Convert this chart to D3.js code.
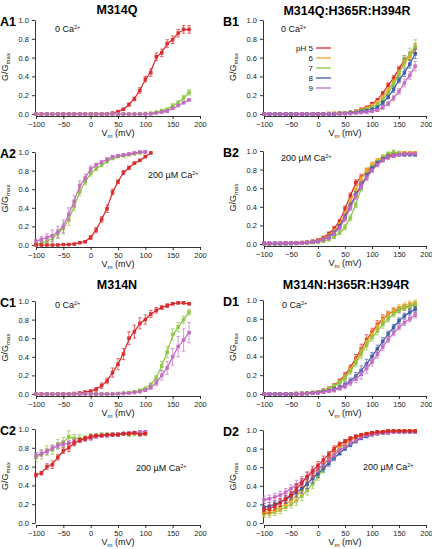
<!DOCTYPE html>
<html><head><meta charset="utf-8">
<script src="https://cdn.jsdelivr.net/npm/d3@7"></script>
<style>body{margin:0;background:#fff}svg{display:block}text{font-family:"Liberation Sans",Arial,sans-serif}</style>
</head><body><svg id="c" width="432" height="549"></svg>
<script>
// ---------- data ----------
const vm29 = [-100,-90,-80,-70,-60,-50,-40,-30,-20,-10,0,10,20,30,40,50,60,70,80,90,100,110,120,130,140,150,160,170,180];
const vm22 = [-100,-90,-80,-70,-60,-50,-40,-30,-20,-10,0,10,20,30,40,50,60,70,80,90,100,110];
const vm21 = [-100,-90,-80,-70,-60,-50,-40,-30,-20,-10,0,10,20,30,40,50,60,70,80,90,100];
const xTicks = [-100,-50,0,50,100,150,200];
const yTicks = [0,0.2,0.4,0.6,0.8,1.0];
const legendLabels = ["pH 5","6","7","8","9"];

// A1 (M314Q, 0 Ca)
const A1_pH5 = [0,0,0,0,0,0,0,0,0,0,0,0,0,0,0.01,0.025,0.05,0.1,0.16,0.25,0.37,0.44,0.61,0.65,0.75,0.79,0.86,0.9,0.9];
const A1_pH5_err = [0,0,0,0,0,0,0,0,0,0,0,0,0,0,0.005,0.01,0.01,0.015,0.02,0.03,0.03,0.04,0.04,0.04,0.04,0.04,0.04,0.04,0.04];
const A1_pH7 = [0,0,0,0,0,0,0,0,0,0,0,0,0,0,0,0,0,0,0,0,0.005,0.01,0.02,0.035,0.05,0.09,0.12,0.17,0.23];
const A1_pH7_err = [0,0,0,0,0,0,0,0,0,0,0,0,0,0,0,0,0,0,0,0,0,0.005,0.005,0.01,0.01,0.02,0.02,0.03,0.03];
const A1_pH9 = [0,0,0,0,0,0,0,0,0,0,0,0,0,0,0,0,0,0,0,0,0,0,0.01,0.02,0.03,0.06,0.09,0.12,0.15];
const A1_pH9_err = [0,0,0,0,0,0,0,0,0,0,0,0,0,0,0,0,0,0,0,0,0,0,0.005,0.005,0.01,0.01,0.01,0.01,0.01];
// A2 (M314Q, 200 uM Ca)
const A2_pH5 = [0,0,0,0,0,0.005,0.005,0.01,0.025,0.035,0.08,0.16,0.275,0.39,0.57,0.68,0.78,0.83,0.88,0.91,0.95,0.99];
const A2_pH5_err = [0,0,0,0,0,0,0,0,0.01,0.01,0.02,0.03,0.03,0.04,0.03,0.02,0.02,0.02,0.01,0.01,0.01,0.01];
const A2_pH7 = [0.01,0.02,0.04,0.07,0.12,0.18,0.27,0.42,0.57,0.68,0.77,0.82,0.86,0.9,0.93,0.95,0.96,0.97,0.98,0.99,1.0,null];
const A2_pH7_err = [0.01,0.02,0.03,0.04,0.05,0.06,0.06,0.05,0.04,0.03,0.03,0.02,0.02,0.02,0.01,0.01,0.01,0.01,0.01,0.01,0.01,null];
const A2_pH9 = [0.04,0.06,0.08,0.1,0.14,0.2,0.33,0.47,0.64,0.72,0.82,0.86,0.89,0.92,0.95,0.96,0.97,0.98,0.99,1.0,1.0,null];
const A2_pH9_err = [0.02,0.03,0.04,0.06,0.06,0.07,0.07,0.06,0.05,0.04,0.03,0.02,0.02,0.02,0.01,0.01,0.01,0.01,0.01,0.01,0.01,null];
// B1 (M314Q:H365R:H394R, 0 Ca)
const B1_pH5 = [0,0,0,0,0,0,0,0,0,0,0,0,0.005,0.005,0.01,0.01,0.02,0.03,0.05,0.07,0.11,0.15,0.22,0.31,0.38,0.48,0.58,0.62,0.7];
const B1_pH6 = [0,0,0,0,0,0,0,0,0,0,0,0,0.005,0.005,0.01,0.01,0.015,0.025,0.04,0.06,0.09,0.13,0.18,0.26,0.34,0.44,0.54,0.61,0.7];
const B1_pH7 = [0,0,0,0,0,0,0,0,0,0,0,0,0,0.005,0.005,0.01,0.015,0.02,0.035,0.05,0.07,0.1,0.15,0.22,0.32,0.42,0.56,0.64,0.72];
const B1_pH8 = [0,0,0,0,0,0,0,0,0,0,0,0,0,0,0.005,0.005,0.01,0.015,0.025,0.035,0.05,0.07,0.12,0.18,0.26,0.36,0.44,0.53,0.64];
const B1_pH9 = [0,0,0,0,0,0,0,0,0,0,0,0,0,0,0,0.005,0.005,0.01,0.015,0.02,0.03,0.04,0.07,0.11,0.17,0.24,0.33,0.41,0.51];
const B1_err = [0,0,0,0,0,0,0,0,0,0,0,0,0,0,0,0,0,0,0.005,0.01,0.01,0.01,0.02,0.02,0.03,0.03,0.04,0.04,0.05];
const B1_pH7_err = [0,0,0,0,0,0,0,0,0,0,0,0,0,0,0,0,0,0,0.005,0.01,0.01,0.01,0.02,0.02,0.03,0.04,0.06,0.06,0.07];
// B2 (M314Q:H365R:H394R, 200 uM Ca)
const B2_pH5 = [0.005,0.005,0.005,0.005,0.01,0.01,0.01,0.015,0.02,0.03,0.045,0.07,0.11,0.17,0.24,0.38,0.52,0.66,0.72,0.78,0.83,0.88,0.92,0.94,0.96,0.97,0.98,0.98,0.98];
const B2_pH6 = [0.005,0.005,0.005,0.005,0.005,0.01,0.01,0.015,0.02,0.025,0.04,0.06,0.09,0.14,0.21,0.32,0.46,0.58,0.7,0.79,0.86,0.9,0.94,0.96,0.97,0.98,0.98,0.98,0.98];
const B2_pH7 = [0.005,0.005,0.005,0.005,0.005,0.005,0.005,0.01,0.01,0.015,0.02,0.03,0.05,0.08,0.12,0.18,0.28,0.42,0.6,0.74,0.83,0.88,0.93,0.97,0.99,0.98,0.96,0.97,0.96];
const B2_pH8 = [0.005,0.005,0.005,0.005,0.005,0.005,0.01,0.01,0.015,0.02,0.03,0.05,0.08,0.12,0.19,0.29,0.41,0.53,0.64,0.73,0.81,0.87,0.91,0.94,0.95,0.96,0.96,0.96,0.96];
const B2_pH9 = [0.01,0.01,0.01,0.01,0.01,0.01,0.01,0.01,0.015,0.02,0.03,0.045,0.07,0.11,0.17,0.27,0.39,0.51,0.62,0.71,0.79,0.85,0.9,0.93,0.95,0.96,0.97,0.97,0.97];
const B2_err = [0.01,0.01,0.01,0.01,0.01,0.01,0.01,0.01,0.01,0.01,0.01,0.01,0.02,0.02,0.02,0.03,0.03,0.03,0.03,0.03,0.02,0.02,0.02,0.02,0.02,0.01,0.01,0.01,0.01];
// C1 (M314N, 0 Ca)
const C1_pH5 = [0,0,0,0,0,0,0,0.005,0.01,0.02,0.03,0.05,0.09,0.14,0.23,0.32,0.43,0.6,0.67,0.76,0.8,0.86,0.9,0.93,0.95,0.97,0.98,0.98,0.97];
const C1_pH5_err = [0,0,0,0,0,0,0,0,0.01,0.01,0.01,0.02,0.03,0.03,0.05,0.06,0.06,0.07,0.07,0.06,0.05,0.04,0.03,0.02,0.02,0.01,0.01,0.01,0.01];
const C1_pH7 = [0,0,0,0,0,0,0,0,0,0,0,0,0,0,0,0.005,0.01,0.015,0.025,0.04,0.06,0.1,0.17,0.3,0.45,0.64,0.72,0.8,0.88];
const C1_pH7_err = [0,0,0,0,0,0,0,0,0,0,0,0,0,0,0,0,0,0,0.01,0.01,0.01,0.02,0.03,0.05,0.06,0.06,0.05,0.04,0.03];
const C1_pH9 = [0,0,0,0,0,0,0,0,0,0,0,0,0,0,0,0.003,0.006,0.01,0.015,0.025,0.04,0.07,0.12,0.2,0.28,0.4,0.51,0.58,0.66];
const C1_pH9_err = [0,0,0,0,0,0,0,0,0,0,0,0,0,0,0,0,0,0,0,0.01,0.01,0.02,0.03,0.05,0.07,0.09,0.11,0.12,0.11];
// C2 (M314N, 200 uM Ca)
const C2_pH5 = [0.51,0.53,0.6,0.62,0.7,0.77,0.8,0.85,0.88,0.9,0.92,0.93,0.93,0.94,0.94,0.94,0.95,0.95,0.96,0.94,0.95];
const C2_pH5_err = [0.02,0.02,0.03,0.04,0.03,0.03,0.04,0.03,0.02,0.02,0.02,0.01,0.01,0.01,0.01,0.01,0.01,0.01,0.01,0.01,0.01];
const C2_pH7 = [0.7,0.73,0.77,0.78,0.84,0.86,0.92,0.9,0.9,0.9,0.92,0.93,0.94,0.94,0.94,0.94,0.95,0.94,0.95,0.95,0.95];
const C2_pH7_err = [0.05,0.05,0.05,0.05,0.05,0.05,0.06,0.04,0.04,0.03,0.03,0.02,0.02,0.02,0.02,0.02,0.02,0.02,0.02,0.02,0.02];
const C2_pH9 = [0.72,0.74,0.76,0.8,0.82,0.84,0.85,0.86,0.88,0.89,0.9,0.92,0.93,0.93,0.94,0.94,0.95,0.96,0.96,0.97,0.97];
const C2_pH9_err = [0.03,0.03,0.03,0.03,0.03,0.03,0.03,0.03,0.02,0.02,0.02,0.02,0.02,0.02,0.02,0.02,0.01,0.01,0.01,0.01,0.01];
// D1 (M314N:H365R:H394R, 0 Ca)
const D1_pH5 = [0,0,0,0,0,0,0.005,0.005,0.01,0.015,0.02,0.04,0.06,0.09,0.14,0.2,0.28,0.38,0.48,0.58,0.66,0.74,0.8,0.85,0.88,0.9,0.92,0.94,0.95];
const D1_pH6 = [0,0,0,0,0,0,0.005,0.005,0.01,0.015,0.02,0.035,0.055,0.085,0.13,0.18,0.26,0.35,0.45,0.55,0.64,0.72,0.79,0.85,0.89,0.92,0.94,0.96,0.97];
const D1_pH7 = [0,0,0,0,0,0,0.005,0.005,0.01,0.015,0.02,0.035,0.05,0.08,0.12,0.17,0.24,0.33,0.43,0.52,0.6,0.67,0.74,0.8,0.85,0.89,0.92,0.93,0.95];
const D1_pH8 = [0,0,0,0,0,0,0,0.005,0.005,0.01,0.015,0.025,0.035,0.05,0.07,0.1,0.14,0.19,0.25,0.32,0.4,0.48,0.56,0.64,0.71,0.78,0.83,0.87,0.9];
const D1_pH9 = [0,0,0,0,0,0,0,0.005,0.005,0.01,0.012,0.02,0.03,0.04,0.06,0.085,0.12,0.16,0.21,0.27,0.34,0.42,0.5,0.58,0.65,0.71,0.76,0.8,0.84];
const D1_err = [0,0,0,0,0,0,0,0,0.005,0.005,0.01,0.01,0.01,0.02,0.02,0.03,0.03,0.04,0.05,0.05,0.04,0.04,0.04,0.03,0.03,0.03,0.03,0.03,0.03];
// D2 (M314N:H365R:H394R, 200 uM Ca)
const D2_pH5 = [0.14,0.15,0.18,0.22,0.26,0.3,0.37,0.43,0.5,0.56,0.62,0.68,0.74,0.8,0.85,0.88,0.91,0.93,0.95,0.96,0.97,0.98,0.98,0.99,0.99,0.99,0.99,0.99,0.99];
const D2_pH6 = [0.11,0.12,0.14,0.17,0.2,0.24,0.29,0.35,0.42,0.49,0.56,0.63,0.7,0.76,0.81,0.86,0.9,0.92,0.94,0.96,0.97,0.98,0.98,0.99,0.99,0.99,0.99,0.99,0.99];
const D2_pH7 = [0.1,0.1,0.12,0.14,0.17,0.2,0.24,0.29,0.35,0.42,0.5,0.58,0.66,0.73,0.8,0.85,0.89,0.92,0.94,0.96,0.97,0.98,0.98,0.99,0.99,0.99,0.99,0.99,0.99];
const D2_pH8 = [0.17,0.18,0.2,0.22,0.25,0.29,0.33,0.37,0.42,0.48,0.53,0.59,0.64,0.7,0.75,0.8,0.84,0.88,0.91,0.93,0.95,0.96,0.97,0.97,0.98,0.98,0.98,0.98,0.98];
const D2_pH9 = [0.25,0.26,0.28,0.3,0.33,0.37,0.41,0.45,0.49,0.54,0.58,0.63,0.68,0.73,0.78,0.82,0.86,0.89,0.92,0.94,0.95,0.96,0.97,0.97,0.98,0.98,0.98,0.98,0.98];
const D2_err = [0.04,0.04,0.04,0.04,0.04,0.04,0.05,0.05,0.05,0.05,0.04,0.04,0.03,0.03,0.02,0.02,0.02,0.02,0.01,0.01,0.01,0.01,0.01,0.01,0.01,0.01,0.01,0.01,0.01];

// ---------- styling ----------
const col = {pH5:"#d8272a", pH6:"#f4a52a", pH7:"#8cc63f", pH8:"#3a5ca8", pH9:"#c568c2"};
const colOrder = ["pH5","pH6","pH7","pH8","pH9"];

const svg = d3.select("#c");

const panels = [
  {id:"A1", L:36, R:200, B:114, T:20, vm:vm29, note:"0", nx:55, ny:32,
   s:[["pH5",A1_pH5,A1_pH5_err],["pH7",A1_pH7,A1_pH7_err],["pH9",A1_pH9,A1_pH9_err]]},
  {id:"A2", L:36, R:200, B:245, T:152, vm:vm22, note:"200", nx:148, ny:178,
   s:[["pH7",A2_pH7,A2_pH7_err],["pH9",A2_pH9,A2_pH9_err],["pH5",A2_pH5,A2_pH5_err]]},
  {id:"B1", L:264, R:426, B:114, T:20, vm:vm29, note:"0", nx:281, ny:32, legend:true,
   s:[["pH5",B1_pH5,B1_err],["pH6",B1_pH6,B1_err],["pH7",B1_pH7,B1_pH7_err],["pH8",B1_pH8,B1_err],["pH9",B1_pH9,B1_err]]},
  {id:"B2", L:264, R:426, B:244, T:151, vm:vm29, note:"200", nx:281, ny:161,
   s:[["pH5",B2_pH5,B2_err],["pH6",B2_pH6,B2_err],["pH7",B2_pH7,B2_err],["pH8",B2_pH8,B2_err],["pH9",B2_pH9,B2_err]]},
  {id:"C1", L:36, R:200, B:394, T:301, vm:vm29, note:"0", nx:55, ny:308,
   s:[["pH5",C1_pH5,C1_pH5_err],["pH7",C1_pH7,C1_pH7_err],["pH9",C1_pH9,C1_pH9_err]]},
  {id:"C2", L:36, R:200, B:523, T:429, vm:vm21, note:"200", nx:136, ny:471,
   s:[["pH7",C2_pH7,C2_pH7_err],["pH9",C2_pH9,C2_pH9_err],["pH5",C2_pH5,C2_pH5_err]]},
  {id:"D1", L:264, R:426, B:394, T:300, vm:vm29, note:"0", nx:282, ny:308,
   s:[["pH5",D1_pH5,D1_err],["pH6",D1_pH6,D1_err],["pH7",D1_pH7,D1_err],["pH8",D1_pH8,D1_err],["pH9",D1_pH9,D1_err]]},
  {id:"D2", L:264, R:426, B:523, T:430, vm:vm29, note:"200", nx:363, ny:470,
   s:[["pH7",D2_pH7,D2_err],["pH6",D2_pH6,D2_err],["pH8",D2_pH8,D2_err],["pH9",D2_pH9,D2_err],["pH5",D2_pH5,D2_err]]}
];

function caText(g, x, y, kind){
  const t = g.append("text").attr("x",x).attr("y",y).attr("font-size",9).attr("fill","#111");
  t.append("tspan").text(kind==="0" ? "0 Ca" : "200 \u00B5M Ca");
  t.append("tspan").attr("font-size",5.5).attr("dy",-3.5).text("2+");
}

panels.forEach(p=>{
  const g = svg.append("g");
  const x = d3.scaleLinear().domain([-100,200]).range([p.L,p.R]);
  const y = d3.scaleLinear().domain([0,1]).range([p.B,p.T]);

  const ya = g.append("g").attr("transform",`translate(${p.L-1},0)`)
    .call(d3.axisLeft(y).tickValues(yTicks).tickFormat(d3.format(".1f")).tickSize(3).tickSizeOuter(0));
  const xa = g.append("g").attr("transform",`translate(0,${p.B+2})`)
    .call(d3.axisBottom(x).tickValues(xTicks).tickSize(3).tickSizeOuter(0));
  [ya,xa].forEach(a=>{
    a.selectAll("path").attr("stroke","#000").attr("stroke-width",0.8);
    a.selectAll("line").attr("stroke","#000").attr("stroke-width",0.8);
    a.selectAll("text").attr("font-size",7.5).attr("fill","#222")
      .attr("font-family",'"Liberation Sans",Arial,sans-serif');
  });
  xa.selectAll("text").attr("dy","0.62em");

  const yl = g.append("text").attr("transform",`translate(${p.L-28},${(p.T+p.B)/2}) rotate(-90)`)
    .attr("text-anchor","middle").attr("font-size",9).attr("fill","#111");
  yl.append("tspan").text("G/G");
  yl.append("tspan").attr("font-size",6).attr("dy",2).text("max");
  const xl = g.append("text").attr("x",(p.L+p.R)/2).attr("y",p.B+22)
    .attr("text-anchor","middle").attr("font-size",9).attr("fill","#111");
  xl.append("tspan").text("V");
  xl.append("tspan").attr("font-size",6).attr("dy",2).text("m");
  xl.append("tspan").attr("dy",-2).text(" (mV)");

  p.s.forEach(([key, vals, errs])=>{
    const c = col[key];
    const pts = p.vm.map((v,i)=>({v, g:vals[i], e:errs[i]})).filter(d=>d.g!==null);
    const line = d3.line().x(d=>x(d.v)).y(d=>y(d.g)).curve(d3.curveBasis);
    g.append("path").attr("d",line(pts)).attr("fill","none").attr("stroke",c).attr("stroke-width",1.2);
    const eb = g.append("g").attr("stroke",c).attr("stroke-width",0.8).attr("opacity",0.85);
    pts.filter(d=>d.e>0.004).forEach(d=>{
      eb.append("line").attr("x1",x(d.v)).attr("x2",x(d.v)).attr("y1",y(d.g-d.e)).attr("y2",y(d.g+d.e));
      eb.append("line").attr("x1",x(d.v)-1.8).attr("x2",x(d.v)+1.8).attr("y1",y(d.g+d.e)).attr("y2",y(d.g+d.e));
      eb.append("line").attr("x1",x(d.v)-1.8).attr("x2",x(d.v)+1.8).attr("y1",y(d.g-d.e)).attr("y2",y(d.g-d.e));
    });
    g.append("g").selectAll("rect").data(pts).join("rect")
      .attr("x",d=>x(d.v)-1.8).attr("y",d=>y(d.g)-1.8).attr("width",3.6).attr("height",3.6)
      .attr("fill",c).attr("opacity",0.9);
  });

  caText(g, p.nx, p.ny, p.note);

  g.append("text").attr("x", p.L<100 ? 0 : 223).attr("y", p.T+6)
    .attr("font-size",12.5).attr("font-weight","bold").attr("fill","#000").text(p.id);

  if(p.legend){
    const lg = g.append("g");
    legendLabels.forEach((lab,i)=>{
      const yy = 48 + i*10;
      lg.append("text").attr("x",313).attr("y",yy+3).attr("text-anchor","end")
        .attr("font-size",8).attr("fill","#111").text(lab);
      lg.append("line").attr("x1",316).attr("x2",331).attr("y1",yy).attr("y2",yy)
        .attr("stroke",col[colOrder[i]]).attr("stroke-width",1.3);
    });
  }
});

const titles = [["M314Q",117,14],["M314Q:H365R:H394R",347,15],["M314N",117,289],["M314N:H365R:H394R",346,289]];
svg.selectAll("text.title").data(titles).join("text").attr("class","title")
  .attr("x",d=>d[1]).attr("y",d=>d[2]).attr("text-anchor","middle")
  .attr("font-size",12.5).attr("font-weight","bold").attr("fill","#000").text(d=>d[0]);
</script></body></html>
